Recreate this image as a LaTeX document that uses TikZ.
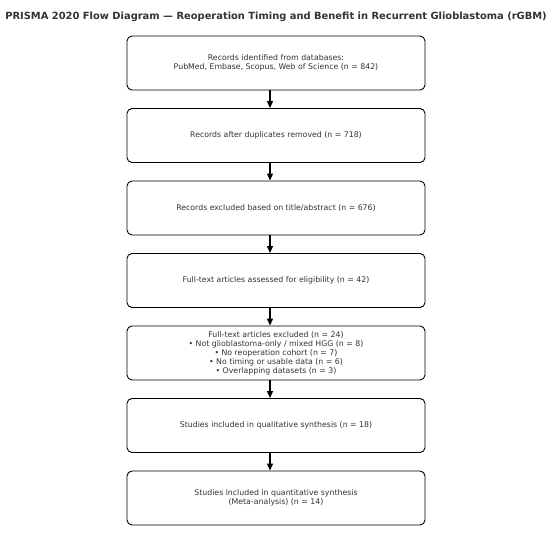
\documentclass[tikz,border=0pt]{standalone}
\usepackage{fontspec}
\setmainfont{DejaVu Sans}
\usetikzlibrary{arrows.meta}
\definecolor{txt}{HTML}{333333}
\tikzset{
  stagebox/.style={draw=black, line width=0.9pt, rounded corners=5pt, minimum width=298pt, minimum height=54pt, align=center, font=\fontsize{7.8}{9}\selectfont, text=txt, inner sep=0pt},
  flowarrow/.style={-{Triangle[width=6pt,length=7pt]}, line width=1.2pt, black}
}
\begin{document}
\begin{tikzpicture}[x=1pt,y=-1pt]
\useasboundingbox (0,0) rectangle (550,533);
\node[font=\fontsize{9.9}{11}\bfseries, text=txt] (title) at (276,17) {PRISMA 2020 Flow Diagram — Reoperation Timing and Benefit in Recurrent Glioblastoma (rGBM)};
\node[stagebox] (b1) at (276,63) {Records identified from databases:\\PubMed, Embase, Scopus, Web of Science (n = 842)};
\node[stagebox] (b2) at (276,135.5) {Records after duplicates removed (n = 718)};
\node[stagebox] (b3) at (276,208) {Records excluded based on title/abstract (n = 676)};
\node[stagebox] (b4) at (276,280.5) {Full-text articles assessed for eligibility (n = 42)};
\node[stagebox] (b5) at (276,353) {Full-text articles excluded (n = 24)\\• Not glioblastoma-only / mixed HGG (n = 8)\\• No reoperation cohort (n = 7)\\• No timing or usable data (n = 6)\\• Overlapping datasets (n = 3)};
\node[stagebox] (b6) at (276,425.5) {Studies included in qualitative synthesis (n = 18)};
\node[stagebox] (b7) at (276,498) {Studies included in quantitative synthesis\\(Meta-analysis) (n = 14)};
\foreach \a/\b in {b1/b2,b2/b3,b3/b4,b4/b5,b5/b6,b6/b7}{
  \draw[flowarrow] ([xshift=-6pt]\a.south) -- ([xshift=-6pt]\b.north);
}
\end{tikzpicture}
\end{document}
